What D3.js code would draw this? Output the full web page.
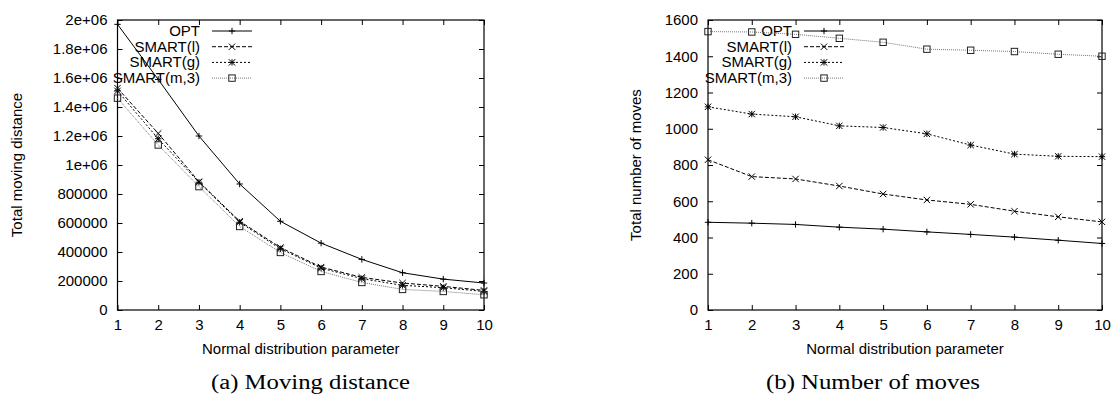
<!DOCTYPE html>
<html>
<head>
<meta charset="utf-8">
<script src="https://cdn.jsdelivr.net/npm/d3@7"></script>
<style>
  body { margin: 0; background: #fff; }
  text { font-family: "Liberation Sans", Arial, sans-serif; fill: #000; }
</style>
</head>
<body>
<div id="viz"></div>
<script>
// x values (normal distribution parameter)
const params = [1, 2, 3, 4, 5, 6, 7, 8, 9, 10];
const seriesNames = ["OPT", "SMART(l)", "SMART(g)", "SMART(m,3)"];

// (a) total moving distance
const distOpt    = [1970000, 1590000, 1200000, 869000, 612000, 461000, 349000, 257000, 213000, 186000];
const distSmartL = [1530000, 1218000, 885000, 612000, 431000, 296000, 225000, 186000, 163000, 135000];
const distSmartG = [1511000, 1181000, 881000, 605000, 422000, 289000, 216000, 170000, 154000, 128000];
const distSmartM = [1461000, 1138000, 851000, 576000, 397000, 266000, 190000, 142000, 128000, 105000];
const distTickLabels = ["0", "200000", "400000", "600000", "800000", "1e+06",
  "1.2e+06", "1.4e+06", "1.6e+06", "1.8e+06", "2e+06"];

// (b) total number of moves
const movesOpt    = [484, 479, 472, 457, 446, 431, 417, 402, 385, 367];
const movesSmartL = [829, 736, 723, 684, 640, 607, 583, 545, 514, 486];
const movesSmartG = [1121, 1081, 1066, 1016, 1007, 972, 910, 860, 848, 846];
const movesSmartM = [1536, 1534, 1521, 1499, 1477, 1439, 1433, 1426, 1411, 1400];
const movesTickLabels = ["0", "200", "400", "600", "800", "1000", "1200", "1400", "1600"];

// line style for each series
const styles = [
  {stroke: "#000", dash: null, marker: "plus"},
  {stroke: "#000", dash: "4,2", marker: "cross"},
  {stroke: "#000", dash: "2,2", marker: "star"},
  {stroke: "#777", dash: "1,1", marker: "square"}
];

const svg = d3.select("#viz")
    .append("svg")
    .attr("width", 1115)
    .attr("height", 396);

function drawMarker(g, type, x, y) {
  const s = 3.2;
  if (type === "square") {
    g.append("rect")
        .attr("x", x - s).attr("y", y - s)
        .attr("width", 2 * s).attr("height", 2 * s)
        .attr("fill", "none").attr("stroke", "#222").attr("stroke-width", 1);
    return;
  }
  let d = "";
  if (type === "plus" || type === "star") d += `M${x - s},${y}H${x + s}M${x},${y - s}V${y + s}`;
  if (type === "cross" || type === "star") d += `M${x - s},${y - s}L${x + s},${y + s}M${x - s},${y + s}L${x + s},${y - s}`;
  g.append("path").attr("d", d).attr("stroke", "#000").attr("stroke-width", 1).attr("fill", "none");
}

function chart(opts) {
  const g = svg.append("g");
  const x = d3.scaleLinear().domain([1, 10]).range([opts.left, opts.right]);
  const y = d3.scaleLinear().domain([0, opts.ymax]).range([310, 20]);
  const yTicks = opts.tickLabels.map((d, i) => i * opts.ymax / (opts.tickLabels.length - 1));

  // axes with inward ticks (gnuplot style)
  g.append("g")
      .attr("transform", "translate(0,310)")
      .call(d3.axisBottom(x).tickValues(params).tickSizeInner(-5).tickSizeOuter(0).tickPadding(9))
      .call(a => a.selectAll("text").attr("font-size", 15).attr("font-family", null));
  g.append("g")
      .attr("transform", "translate(0,20)")
      .call(d3.axisTop(x).tickValues(params).tickSizeInner(-5).tickSizeOuter(0).tickFormat(""));
  g.append("g")
      .attr("transform", "translate(" + opts.left + ",0)")
      .call(d3.axisLeft(y).tickValues(yTicks).tickSizeInner(-5).tickSizeOuter(0).tickPadding(10)
          .tickFormat((d, i) => opts.tickLabels[i]))
      .call(a => a.selectAll("text").attr("font-size", 15).attr("font-family", null));
  g.append("g")
      .attr("transform", "translate(" + opts.right + ",0)")
      .call(d3.axisRight(y).tickValues(yTicks).tickSizeInner(-5).tickSizeOuter(0).tickFormat(""));
  g.selectAll(".domain").remove();
  g.append("rect")
      .attr("x", opts.left).attr("y", 20)
      .attr("width", opts.right - opts.left).attr("height", 290)
      .attr("fill", "none").attr("stroke", "#000").attr("stroke-width", 1.2);

  // axis labels
  g.append("text")
      .attr("text-anchor", "middle")
      .attr("x", (opts.left + opts.right) / 2)
      .attr("y", 353.5)
      .attr("font-size", 15)
      .text("Normal distribution parameter");
  g.append("text")
      .attr("text-anchor", "middle")
      .attr("transform", "translate(" + opts.ylabelX + ",165) rotate(-90)")
      .attr("font-size", 15)
      .text(opts.ylabel);

  // caption
  g.append("text")
      .attr("x", opts.capX)
      .attr("y", 389)
      .attr("font-size", 20)
      .attr("textLength", opts.capW)
      .attr("lengthAdjust", "spacingAndGlyphs")
      .style("font-family", "'Liberation Serif', 'Times New Roman', serif")
      .text(opts.caption);

  // legend
  opts.series.forEach((s, i) => {
    const cy = 31 + i * 15.7;
    g.append("text")
        .attr("text-anchor", "end")
        .attr("x", opts.legendX)
        .attr("y", cy + 5)
        .attr("font-size", 15)
        .text(seriesNames[i]);
    g.append("line")
        .attr("x1", opts.legendX + 12).attr("x2", opts.legendX + 52)
        .attr("y1", cy).attr("y2", cy)
        .attr("stroke", styles[i].stroke)
        .attr("stroke-dasharray", styles[i].dash)
        .attr("stroke-width", 1);
    drawMarker(g, styles[i].marker, opts.legendX + 32, cy);
  });

  // lines and points
  const line = d3.line()
      .x((d, i) => x(params[i]))
      .y(d => y(d));
  opts.series.forEach((s, i) => {
    g.append("path")
        .datum(s)
        .attr("d", line)
        .attr("fill", "none")
        .attr("stroke", styles[i].stroke)
        .attr("stroke-dasharray", styles[i].dash)
        .attr("stroke-width", 1);
    s.forEach((v, j) => drawMarker(g, styles[i].marker, x(params[j]), y(v)));
  });
}

chart({
  left: 117.5, right: 484, ymax: 2000000,
  tickLabels: distTickLabels,
  series: [distOpt, distSmartL, distSmartG, distSmartM],
  ylabel: "Total moving distance", ylabelX: 22,
  caption: "(a)  Moving distance", capX: 211, capW: 199,
  legendX: 200
});

chart({
  left: 708, right: 1102, ymax: 1600,
  tickLabels: movesTickLabels,
  series: [movesOpt, movesSmartL, movesSmartG, movesSmartM],
  ylabel: "Total number of moves", ylabelX: 641,
  caption: "(b)  Number of moves", capX: 766, capW: 214,
  legendX: 792
});
</script>
</body>
</html>
